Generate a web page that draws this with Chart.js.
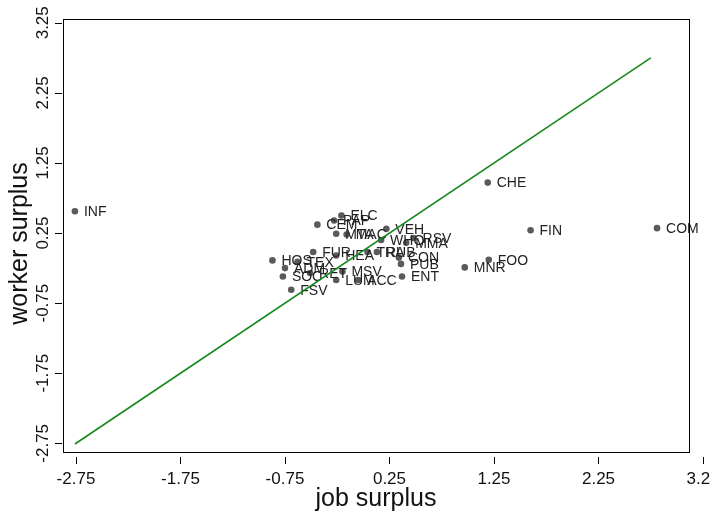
<!DOCTYPE html>
<html>
<head>
<meta charset="utf-8">
<script src="https://cdn.jsdelivr.net/npm/chart.js@4.4.1/dist/chart.umd.min.js"></script>
<style>
    html, body { margin: 0; padding: 0; background: #fff; }
    #wrap { width: 711px; height: 512px; }
</style>
</head>
<body>
<div id="wrap"><canvas id="surplus-chart"></canvas></div>
<script>
// industry codes with job surplus (x) and worker surplus (y)
const industries = [
    'INF', 'CHE', 'FIN', 'COM', 'FOO', 'MNR',
    'HOS', 'TEX', 'ADM', 'SOC', 'RET', 'MSV', 'LUM', 'ACC', 'FSV',
    'FUR', 'HEA', 'TRA', 'RUB', 'CON', 'PUB', 'ENT',
    'VEH', 'WHO', 'MMA', 'RSV', 'MTA', 'MAC', 'ELC', 'PAP', 'CEM'
];
const jobSurplus = [
    -2.76, 1.19, 1.60, 2.81, 1.20, 0.97,
    -0.87, -0.63, -0.75, -0.77, -0.51, -0.20, -0.26, -0.05, -0.69,
    -0.48, -0.26, 0.04, 0.13, 0.34, 0.36, 0.37,
    0.22, 0.17, 0.41, 0.48, -0.26, -0.16, -0.21, -0.28, -0.44
];
const workerSurplus = [
    0.56, 0.97, 0.29, 0.32, -0.13, -0.24,
    -0.14, -0.16, -0.25, -0.37, -0.32, -0.30, -0.42, -0.42, -0.56,
    -0.02, -0.07, -0.02, -0.02, -0.10, -0.19, -0.37,
    0.31, 0.15, 0.11, 0.18, 0.24, 0.23, 0.50, 0.43, 0.37
];

// 45 degree reference line
const diagX = [-2.76, 2.75];
const diagY = [-2.76, 2.75];

const xTicks = [-2.75, -1.75, -0.75, 0.25, 1.25, 2.25, 3.25];
const yTicks = [-2.75, -1.75, -0.75, 0.25, 1.25, 2.25, 3.25];
const xTickLabels = ['-2.75', '-1.75', '-0.75', '0.25', '1.25', '2.25', '3.25'];
const yTickLabels = ['-2.75', '-1.75', '-0.75', '0.25', '1.25', '2.25', '3.25'];

const FONT = '"Liberation Sans", Arial, sans-serif';

// box, ticks, tick labels and titles (Stata style, ticks offset from the frame)
const framePlugin = {
    id: 'frame',
    afterDraw(chart) {
        const { ctx, chartArea: a, scales } = chart;
        ctx.save();
        ctx.strokeStyle = '#000';
        ctx.lineWidth = 1;
        ctx.strokeRect(a.left + 0.5, a.top + 0.5, a.right - a.left, a.bottom - a.top);

        ctx.fillStyle = '#111';
        ctx.beginPath();
        xTicks.forEach(v => {
            const px = Math.round(scales.x.getPixelForValue(v)) + 0.5;
            ctx.moveTo(px, a.bottom + 5);
            ctx.lineTo(px, a.bottom + 12);
        });
        yTicks.forEach(v => {
            const py = Math.round(scales.y.getPixelForValue(v)) + 0.5;
            ctx.moveTo(a.left - 8, py);
            ctx.lineTo(a.left - 1, py);
        });
        ctx.stroke();

        ctx.font = '17px ' + FONT;
        ctx.textAlign = 'center';
        ctx.textBaseline = 'alphabetic';
        xTicks.forEach((v, i) => {
            ctx.fillText(xTickLabels[i], scales.x.getPixelForValue(v), a.bottom + 32);
        });
        yTicks.forEach((v, i) => {
            ctx.save();
            ctx.translate(a.left - 15, scales.y.getPixelForValue(v));
            ctx.rotate(-Math.PI / 2);
            ctx.fillText(yTickLabels[i], 0, 0);
            ctx.restore();
        });

        ctx.font = '25px ' + FONT;
        ctx.fillText('job surplus', (a.left + a.right) / 2, 506);
        ctx.save();
        ctx.translate(27, (a.top + a.bottom) / 2 + 8);
        ctx.rotate(-Math.PI / 2);
        ctx.fillText('worker surplus', 0, 0);
        ctx.restore();
        ctx.restore();
    }
};

// marker labels go under the diagonal line, so draw them right after the scatter
const labelPlugin = {
    id: 'pointLabels',
    afterDatasetDraw(chart, args) {
        if (args.index !== 1) return;
        const { ctx } = chart;
        const meta = chart.getDatasetMeta(1);
        ctx.save();
        ctx.font = '14px ' + FONT;
        ctx.fillStyle = '#222';
        ctx.textAlign = 'left';
        ctx.textBaseline = 'middle';
        meta.data.forEach((pt, i) => {
            ctx.fillText(industries[i], pt.x + 9, pt.y + 1);
        });
        ctx.restore();
    }
};

const points = industries.map((name, i) => ({ x: jobSurplus[i], y: workerSurplus[i] }));
const diagLine = diagX.map((x, i) => ({ x: x, y: diagY[i] }));

new Chart(document.getElementById('surplus-chart'), {
    type: 'scatter',
    data: {
        datasets: [
            {
                type: 'line',
                data: diagLine,
                borderColor: '#17881b',
                borderWidth: 1.6,
                pointRadius: 0,
                fill: false,
                order: 0
            },
            {
                data: points,
                backgroundColor: '#5a5a5a',
                borderWidth: 0,
                pointRadius: 3.3,
                order: 1
            }
        ]
    },
    options: {
        responsive: true,
        maintainAspectRatio: false,
        animation: false,
        layout: { padding: { left: 63, top: 19, right: 22, bottom: 60 } },
        plugins: {
            legend: { display: false },
            tooltip: { enabled: false }
        },
        scales: {
            x: { type: 'linear', min: -2.874, max: 3.116, display: false },
            y: { type: 'linear', min: -2.874, max: 3.304, display: false }
        }
    },
    plugins: [framePlugin, labelPlugin]
});
</script>
</body>
</html>
